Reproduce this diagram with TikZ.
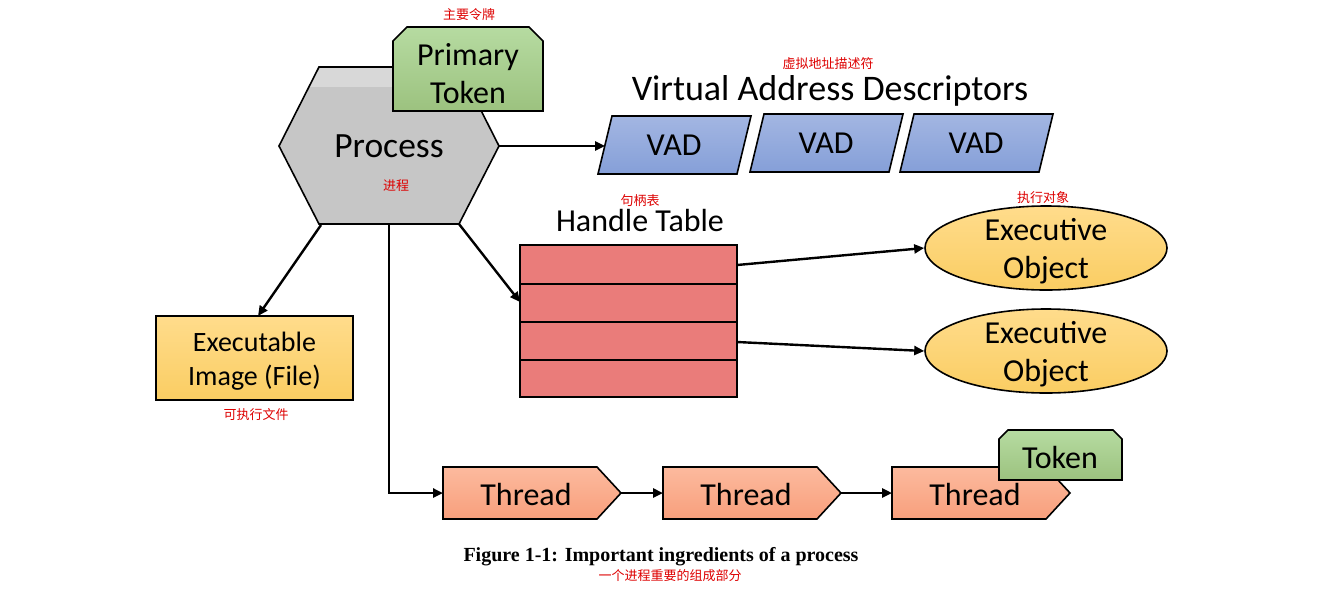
\documentclass[tikz,border=0pt]{standalone}
\usepackage{fontspec}
\setmainfont{Carlito}
\newfontfamily\cjk{Noto Sans CJK SC}
\newfontfamily\capfont{Liberation Serif}
\usetikzlibrary{arrows.meta,shapes.geometric}
\definecolor{redtxt}{HTML}{DD0000}
\definecolor{hexgray}{HTML}{C6C6C6}
\definecolor{hexlight}{HTML}{D8D8D8}
\definecolor{greenT}{HTML}{B6DBA1}
\definecolor{greenB}{HTML}{9CC27F}
\definecolor{blueT}{HTML}{A3B6E2}
\definecolor{blueB}{HTML}{859FD8}
\definecolor{tablered}{HTML}{EA7C7A}
\definecolor{yelT}{HTML}{FFDC8C}
\definecolor{yelB}{HTML}{FACD62}
\definecolor{thrT}{HTML}{FCBA9E}
\definecolor{thrB}{HTML}{F89F7C}
\begin{document}
\begin{tikzpicture}[x=1pt,y=-1pt,line join=miter,
 outl/.style={draw=black,line width=1.6pt},
 conn/.style={line width=2.4pt,-{Triangle[length=10pt,width=9pt]}},
 redlbl/.style={text=redtxt,font=\cjk\fontsize{13}{14}\selectfont,inner sep=0pt},
 lbl/.style={align=center,inner sep=0pt,font=\fontsize{32}{38}\selectfont},
 greenshade/.style={top color=greenT,bottom color=greenB},
 blueshade/.style={top color=blueT,bottom color=blueB},
 thrshade/.style={top color=thrT,bottom color=thrB},
 eobj/.style={ellipse,draw,line width=1.6pt,top color=yelT,bottom color=yelB,minimum width=242pt,minimum height=84pt,inner sep=0pt},
]
\useasboundingbox (0,0) rectangle (1319,590);

% ---------- Process hexagon ----------
\coordinate (hL) at (279,146);
\coordinate (hTL) at (319,67);
\coordinate (hTR) at (459,67);
\coordinate (hR) at (499,146);
\coordinate (hBR) at (459,224);
\coordinate (hBL) at (319,224);
\coordinate (hB) at (389,224);
\coordinate (hxl) at (321,225);
\fill[hexgray] (hL)--(hTL)--(hTR)--(hR)--(hBR)--(hBL)--cycle;
\begin{scope}
\clip (hL)--(hTL)--(hTR)--(hR)--(hBR)--(hBL)--cycle;
\fill[hexlight] (270,60) rectangle (510,87);
\end{scope}
\draw[outl] (hL)--(hTL)--(hTR)--(hR)--(hBR)--(hBL)--cycle;
\node[lbl,font=\fontsize{35.5}{40}\selectfont] (proc) at (389,146) {Process};
\node[redlbl] (procz) at (396,186) {进程};

% ---------- Primary token ----------
\shade[greenshade] (393,111)--(393,41)--(407,27)--(529,27)--(543,41)--(543,111)--cycle;
\draw[outl] (393,111)--(393,41)--(407,27)--(529,27)--(543,41)--(543,111)--cycle;
\node[lbl] (ptok) at (468,74) {Primary\\Token};
\node[redlbl] (ptokz) at (469,15) {主要令牌};

% ---------- VADs ----------
\node[lbl,font=\fontsize{36}{40}\selectfont] (vadt) at (830,91) {Virtual Address Descriptors};
\node[redlbl] (vadz) at (828,64) {虚拟地址描述符};
\foreach \i/\x/\y in {1/598/174,2/750/172,3/900/172}{
  \shade[blueshade] (\x,\y)--++(139,0)--++(14,-58)--++(-139,0)--cycle;
  \draw[outl] (\x,\y)--++(139,0)--++(14,-58)--++(-139,0)--cycle;
  \node[lbl] (vad\i) at (\x+76,\y-29) {VAD};
}
\coordinate (vin) at (605,146);
\draw[conn] (hR) -- (vin);

% ---------- Handle table ----------
\node[lbl] (htt) at (640,221) {Handle Table};
\node[redlbl] (httz) at (640,201) {句柄表};
\node[draw,line width=1.6pt,fill=tablered,minimum width=217pt,minimum height=152pt,inner sep=0pt] (ht) at (628.5,321) {};
\foreach \yy in {284,322,360}{\draw[line width=1.6pt] (520,\yy) -- (737,\yy);}
\coordinate (htin) at (520,302);
\draw[conn] (hBR) -- (htin);

% ---------- Executive objects ----------
\node[redlbl] (eoz) at (1043,198) {执行对象};
\node[eobj] (eo1) at (1046,248) {};
\node[lbl] (eo1t) at (1046,251) {Executive\\Object};
\node[eobj] (eo2) at (1046,351) {};
\node[lbl] (eo2t) at (1046,354) {Executive\\Object};
\coordinate (ht1) at (737,265);
\coordinate (ht3) at (737,342);
\draw[conn] (ht1) -- (eo1.west);
\draw[conn] (ht3) -- (eo2.west);

% ---------- Executable image ----------
\node[draw,line width=1.6pt,top color=yelT,bottom color=yelB,minimum width=197pt,minimum height=84pt,inner sep=0pt] (exe) at (254.5,358) {};
\node[lbl,font=\fontsize{28}{34}\selectfont] (exet) at (254.5,361) {Executable\\Image (File)};
\node[redlbl] (exez) at (256,415) {可执行文件};
\coordinate (exein) at (258,316);
\draw[conn] (hxl) -- (exein);

% ---------- Threads ----------
\foreach \i/\x in {1/443,2/663,3/892}{
  \shade[thrshade] (\x,467)--++(154,0)--++(24,26)--++(-24,26)--++(-154,0)--cycle;
  \draw[outl] (\x,467)--++(154,0)--++(24,26)--++(-24,26)--++(-154,0)--cycle;
  \node[lbl] (th\i) at (\x+83,494) {Thread};
}
\coordinate (t1in) at (443,493);
\coordinate (t1tip) at (621,493);
\coordinate (t2in) at (663,493);
\coordinate (t2tip) at (841,493);
\coordinate (t3in) at (892,493);
\draw[conn] (hB) |- (t1in);
\draw[conn] (t1tip) -- (t2in);
\draw[conn] (t2tip) -- (t3in);

% ---------- Thread token ----------
\shade[greenshade] (999,480)--(999,439)--(1008,430)--(1113,430)--(1122,439)--(1122,480)--cycle;
\draw[outl] (999,480)--(999,439)--(1008,430)--(1113,430)--(1122,439)--(1122,480)--cycle;
\node[lbl] (tok) at (1060,457) {Token};

% ---------- Caption ----------
\node[inner sep=0pt,font=\capfont\bfseries\fontsize{20}{22}\selectfont] (cap) at (661,557) {Figure 1-1: Important ingredients of a process};
\node[redlbl] (capz) at (670,576) {一个进程重要的组成部分};
\end{tikzpicture}
\end{document}
